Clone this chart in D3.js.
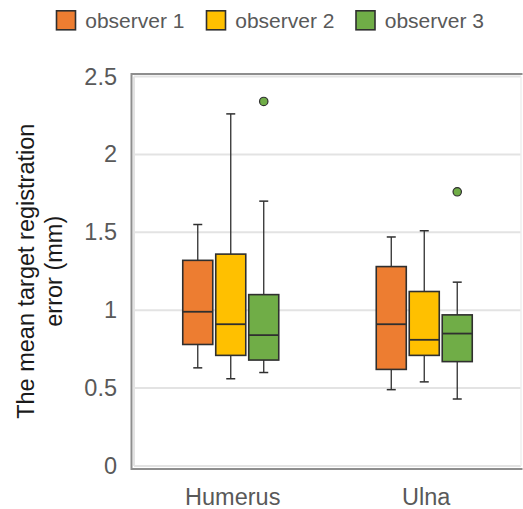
<!DOCTYPE html>
<html>
<head>
<meta charset="utf-8">
<script src="https://cdn.jsdelivr.net/npm/d3@7"></script>
<style>
html,body{margin:0;padding:0;background:#fff;}
svg{display:block;font-family:"Liberation Sans",Arial,sans-serif;}
</style>
</head>
<body>
<svg id="chart" width="523" height="509"></svg>
<script>
// ---- data ----
const categories = ["Humerus", "Ulna"];
const series = ["observer 1", "observer 2", "observer 3"];
const colors = ["#ED7D31", "#FFC000", "#70AD47"];
const yTicks = [0, 0.5, 1, 1.5, 2, 2.5];
// [min, q1, median, q3, max] per series, per category
const humerusStats = [
  [0.63, 0.78, 0.99, 1.32, 1.55],
  [0.56, 0.71, 0.91, 1.36, 2.26],
  [0.60, 0.68, 0.84, 1.10, 1.70]
];
const ulnaStats = [
  [0.49, 0.62, 0.91, 1.28, 1.47],
  [0.54, 0.71, 0.81, 1.12, 1.51],
  [0.43, 0.67, 0.85, 0.97, 1.18]
];
const humerusOutliers = [[], [], [2.34]];
const ulnaOutliers = [[], [], [1.76]];

const statsByCat = [humerusStats, ulnaStats];
const outliersByCat = [humerusOutliers, ulnaOutliers];

// ---- layout ----
const svg = d3.select("#chart");
const plot = {left: 134, right: 521, top: 76.5, bottom: 466};

const y = d3.scaleLinear().domain([0, 2.5]).range([plot.bottom, plot.top]);
const x = d3.scaleBand().domain(categories).range([plot.left, plot.right]);
const xs = d3.scaleBand().domain(series).range([-48, 48]).paddingInner(0.09);

// grid lines
svg.append("g").selectAll("line").data(yTicks).join("line")
  .attr("x1", plot.left).attr("x2", plot.right)
  .attr("y1", d => y(d)).attr("y2", d => y(d))
  .attr("stroke", "#e3e3e3").attr("stroke-width", 2);
// inner light left / right
svg.append("line").attr("x1", plot.left).attr("x2", plot.left)
  .attr("y1", plot.top).attr("y2", plot.bottom)
  .attr("stroke", "#e3e3e3").attr("stroke-width", 2);
svg.append("line").attr("x1", plot.right).attr("x2", plot.right)
  .attr("y1", plot.top).attr("y2", plot.bottom)
  .attr("stroke", "#efefef").attr("stroke-width", 1.5);
// dark outer frame (left, top, bottom)
svg.append("path")
  .attr("d", `M${plot.right + 1.5},${plot.top - 2.5} L${plot.left - 2.5},${plot.top - 2.5} L${plot.left - 2.5},${plot.bottom + 3} L${plot.right + 1.5},${plot.bottom + 3}`)
  .attr("fill", "none").attr("stroke", "#8e8e8e").attr("stroke-width", 2);

// y axis labels
const yAxis = d3.axisLeft(y).tickValues(yTicks).tickFormat(d3.format("")).tickSize(0).tickPadding(0);
const ga = svg.append("g").attr("transform", `translate(117,0)`).call(yAxis);
ga.select(".domain").remove();
ga.selectAll("text").attr("font-size", 23.5).attr("fill", "#595959")
  .attr("font-family", "'Liberation Sans',Arial,sans-serif");

// x axis labels
const xAxis = d3.axisBottom(x).tickSize(0).tickPadding(0);
const gx = svg.append("g").attr("transform", `translate(2,488)`).call(xAxis);
gx.select(".domain").remove();
gx.selectAll("text").attr("font-size", 23.5).attr("fill", "#595959")
  .attr("font-family", "'Liberation Sans',Arial,sans-serif");

// y title
const title = svg.append("text")
  .attr("transform", `translate(0,${(plot.top + plot.bottom) / 2}) rotate(-90)`)
  .attr("text-anchor", "middle").attr("font-size", 23.5).attr("fill", "#1a1a1a");
title.append("tspan").attr("x", 0).attr("y", 34).text("The mean target registration");
title.append("tspan").attr("x", 0).attr("y", 62).text("error (mm)");

// boxes
const stroke = "#2f2f2f";
categories.forEach((cat, ci) => {
  series.forEach((s, si) => {
    const st = statsByCat[ci][si];
    const cx = x(cat) + x.bandwidth() / 2 + xs(s) + xs.bandwidth() / 2;
    const bw = xs.bandwidth();
    const g = svg.append("g");
    // whiskers
    g.append("line").attr("x1", cx).attr("x2", cx).attr("y1", y(st[3])).attr("y2", y(st[4]))
      .attr("stroke", stroke).attr("stroke-width", 1.3);
    g.append("line").attr("x1", cx).attr("x2", cx).attr("y1", y(st[0])).attr("y2", y(st[1]))
      .attr("stroke", stroke).attr("stroke-width", 1.3);
    [st[0], st[4]].forEach(v => {
      g.append("line").attr("x1", cx - 4.5).attr("x2", cx + 4.5).attr("y1", y(v)).attr("y2", y(v))
        .attr("stroke", stroke).attr("stroke-width", 1.5);
    });
    // box
    g.append("rect").attr("x", cx - bw / 2).attr("width", bw)
      .attr("y", y(st[3])).attr("height", y(st[1]) - y(st[3]))
      .attr("fill", colors[si]).attr("stroke", stroke).attr("stroke-width", 1.6);
    // median
    g.append("line").attr("x1", cx - bw / 2).attr("x2", cx + bw / 2)
      .attr("y1", y(st[2])).attr("y2", y(st[2]))
      .attr("stroke", stroke).attr("stroke-width", 1.8);
    // outliers
    g.selectAll("circle").data(outliersByCat[ci][si]).join("circle")
      .attr("cx", cx).attr("cy", d => y(d)).attr("r", 4.2)
      .attr("fill", colors[si]).attr("stroke", stroke).attr("stroke-width", 1.2);
  });
});

// legend
const legendX = d3.scaleOrdinal().domain(series).range([55.7, 205.7, 355.2]);
const lg = svg.append("g").selectAll("g").data(series).join("g")
  .attr("transform", d => `translate(${legendX(d)},10)`);
lg.append("rect").attr("x", 0.8).attr("y", 0.8).attr("width", 19).attr("height", 19)
  .attr("fill", (d, i) => colors[i]).attr("stroke", stroke).attr("stroke-width", 1.6);
lg.append("text").attr("x", 29.5).attr("y", 17.5).attr("font-size", 21).attr("fill", "#595959")
  .text(d => d);
</script>
</body>
</html>
